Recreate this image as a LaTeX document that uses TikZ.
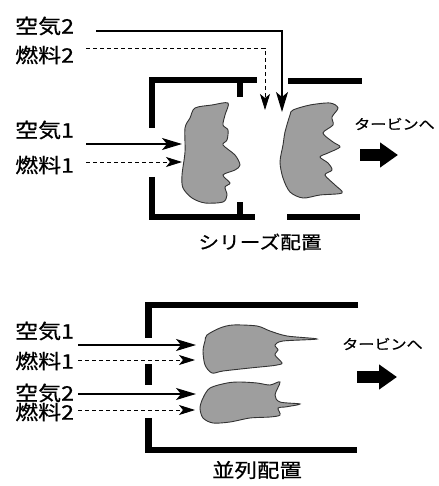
\documentclass[tikz,border=0pt]{standalone}
\usepackage{fontspec}
\setmainfont{Noto Sans CJK JP}[FakeStretch=1.15, FakeBold=0.7]
\usetikzlibrary{arrows.meta}

\begin{document}
\begin{tikzpicture}[x=1pt, y=-1pt, line join=miter]
        \tikzset{inlet/.style={anchor=west, inner sep=0pt, font=\fontsize{20}{20}\selectfont},
                 heading/.style={inner sep=0pt, font=\fontsize{18}{18}\selectfont}}
        \tikzstyle{wall}=[line width=6.5pt]
        \tikzstyle{air}=[line width=1.3pt, -{Stealth[length=20pt,width=12pt,inset=5pt]}]
        \tikzstyle{fuel}=[line width=0.8pt, dash pattern=on 4pt off 3pt, -{Stealth[length=16pt,width=10pt,inset=4pt]}]
        \tikzstyle{flame}=[draw=black!80, fill=black!38, line width=0.9pt]
        \tikzstyle{bigarrow}=[line width=12pt, -{Triangle[length=18pt,width=24pt]}]

        \useasboundingbox[fill=white] (0,0) rectangle (438,486);

        % series layout
        \node[inlet] (air_2) at (15,26) {空気2};
        \node[inlet] (fuel_2) at (15,55) {燃料2};
        \node[inlet] (air_1) at (15,130) {空気1};
        \node[inlet] (fuel_1) at (15,165) {燃料1};
        \node[inlet, font=\fontsize{14}{14}\selectfont] (turb_s) at (354,124) {タービンへ};
        \node[heading] (series) at (260,242) {シリーズ配置};

        \draw[wall] (152,128) -- (152,80) -- (257,80);
        \draw[wall] (240,80) -- (240,97);
        \draw[wall] (152,177) -- (152,217) -- (255,217);
        \draw[wall] (240,217) -- (240,202);
        \draw[wall] (288,81) -- (362,81);
        \draw[wall] (287,217) -- (360,217);

        \draw[flame] plot[smooth cycle, tension=0.5] coordinates {(195,108) (212,105) (228,103) (225,115) (223,125) (228,130) (227,140) (223,145) (235,155) (240,165) (235,170) (223,175) (230,183) (225,187) (227,195) (223,202) (205,203) (192,198) (183,188) (182,175) (185,152) (185,128) (190,118)};
        \draw[flame] plot[smooth cycle, tension=0.5] coordinates {(293,110) (310,105) (330,103) (338,108) (332,117) (333,125) (323,133) (333,142) (340,147) (328,153) (320,157) (328,163) (332,170) (325,175) (335,185) (342,193) (320,195) (303,198) (290,192) (283,178) (280,162) (283,145) (285,132) (290,115)};

        \coordinate (bend_a2) at (282,31);
        \coordinate (tip_a2) at (282,112);
        \coordinate (bend_f2) at (265,48);
        \coordinate (tip_f2) at (265,110);
        \coordinate (tip_a1) at (182,144);
        \coordinate (tip_f1) at (182,162);
        \coordinate (out_s0) at (360,155);
        \coordinate (out_s1) at (398,155);

        \draw[air] ([xshift=22pt]air_2.east |- bend_a2) -- (bend_a2) -- (tip_a2);
        \draw[fuel] ([xshift=12pt]fuel_2.east |- bend_f2) -- (bend_f2) -- (tip_f2);
        \draw[air] ([xshift=12pt]air_1.east |- tip_a1) -- (tip_a1);
        \draw[fuel] ([xshift=12pt]fuel_1.east |- tip_f1) -- (tip_f1);
        \draw[bigarrow] (out_s0) -- (out_s1);

        % parallel layout
        \node[inlet] (p_air_1) at (15,331) {空気1};
        \node[inlet] (p_fuel_1) at (15,361) {燃料1};
        \node[inlet] (p_air_2) at (15,393) {空気2};
        \node[inlet] (p_fuel_2) at (15,412) {燃料2};
        \node[inlet, font=\fontsize{14}{14}\selectfont] (turb_p) at (342,344) {タービンへ};
        \node[heading, font=\fontsize{19.5}{19.5}\selectfont] (parallel) at (257,470) {並列配置};

        \draw[wall] (358,305) -- (148.5,305) -- (148.5,338);
        \draw[wall] (148.5,364) -- (148.5,385);
        \draw[wall] (148.5,418) -- (148.5,450) -- (357,450);

        \draw[flame] plot[smooth cycle, tension=0.5] coordinates {(207,335) (220,328) (233,325) (257,326) (270,331) (287,336) (317,339) (283,341) (275,345) (278,350) (275,355) (282,363) (277,365) (270,366) (250,368) (223,371) (212,373) (205,365) (203,351) (205,341)};
        \draw[flame] plot[smooth cycle, tension=0.5] coordinates {(210,388) (227,383) (240,382) (257,383) (270,385) (280,382) (275,395) (280,402) (300,404) (285,407) (278,408) (280,415) (270,417) (250,418) (230,422) (213,423) (203,418) (200,408) (203,398)};

        \coordinate (tip_pa1) at (196,345);
        \coordinate (tip_pf1) at (195,360);
        \coordinate (tip_pa2) at (196,394);
        \coordinate (tip_pf2) at (195,410);
        \coordinate (out_p0) at (357,377);
        \coordinate (out_p1) at (397,377);

        \draw[air] ([xshift=4pt]p_air_1.east |- tip_pa1) -- (tip_pa1);
        \draw[fuel] ([xshift=4pt]p_fuel_1.east |- tip_pf1) -- (tip_pf1);
        \draw[air] ([xshift=4pt]p_air_2.east |- tip_pa2) -- (tip_pa2);
        \draw[fuel] ([xshift=4pt]p_fuel_2.east |- tip_pf2) -- (tip_pf2);
        \draw[bigarrow] (out_p0) -- (out_p1);
    \end{tikzpicture}
\end{document}
